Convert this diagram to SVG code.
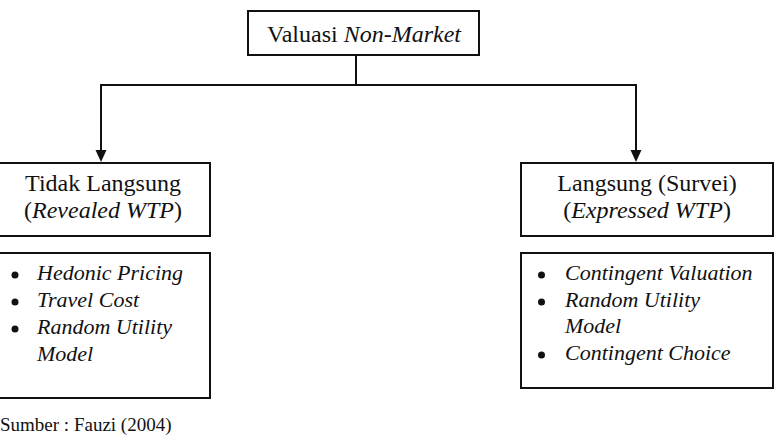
<svg xmlns="http://www.w3.org/2000/svg" width="782" height="444" viewBox="0 0 782 444">
<defs>
<style>
.box{fill:#fff;stroke:#111;stroke-width:2}
.t{font-family:'Liberation Serif',serif;font-size:22px;fill:#111}
.h{font-size:24px}
.i{font-style:italic}
.c{fill:none;stroke:#111;stroke-width:2}
.b{fill:#111}
</style>
</defs>
<g id="connectors">
<path class="c" d="M356,55 V85"/>
<path class="c" d="M101,85 H636"/>
<path class="c" d="M101,84 V150"/>
<path class="c" d="M636,84 V150"/>
<path d="M95.5,150 L106.5,150 L101,162 Z" class="b"/>
<path d="M630.5,150 L641.5,150 L636,162 Z" class="b"/>
</g>
<g id="root">
<rect class="box" x="248" y="11" width="231" height="44"/>
<text class="t h" x="364" y="42" text-anchor="middle">Valuasi <tspan class="i">Non-Market</tspan></text>
</g>
<g id="indirect">
<rect class="box" x="-1" y="163" width="211" height="73"/>
<text class="t h" x="103" y="191" text-anchor="middle">Tidak Langsung</text>
<text class="t h" x="103" y="218" text-anchor="middle">(<tspan class="i">Revealed WTP</tspan>)</text>
</g>
<g id="direct">
<rect class="box" x="521" y="163" width="252" height="73"/>
<text class="t h" x="647" y="191" text-anchor="middle">Langsung (Survei)</text>
<text class="t h" x="647" y="218" text-anchor="middle">(<tspan class="i">Expressed WTP</tspan>)</text>
</g>
<g id="indirect-list">
<rect class="box" x="-1" y="253" width="211" height="145"/>
<circle class="b" cx="15" cy="275" r="3.5"/>
<circle class="b" cx="15" cy="302" r="3.5"/>
<circle class="b" cx="15" cy="329" r="3.5"/>
<text class="t i" x="37" y="280">Hedonic Pricing</text>
<text class="t i" x="37" y="307">Travel Cost</text>
<text class="t i" x="37" y="334">Random Utility</text>
<text class="t i" x="37" y="361">Model</text>
</g>
<g id="direct-list">
<rect class="box" x="521" y="253" width="252" height="135"/>
<circle class="b" cx="541.5" cy="275" r="3.5"/>
<circle class="b" cx="541.5" cy="302" r="3.5"/>
<circle class="b" cx="541.5" cy="355" r="3.5"/>
<text class="t i" x="565" y="280">Contingent Valuation</text>
<text class="t i" x="565" y="307">Random Utility</text>
<text class="t i" x="565" y="333">Model</text>
<text class="t i" x="565" y="360">Contingent Choice</text>
</g>
<text class="t" x="0" y="431" style="font-size:19px">Sumber : Fauzi (2004)</text>
</svg>
